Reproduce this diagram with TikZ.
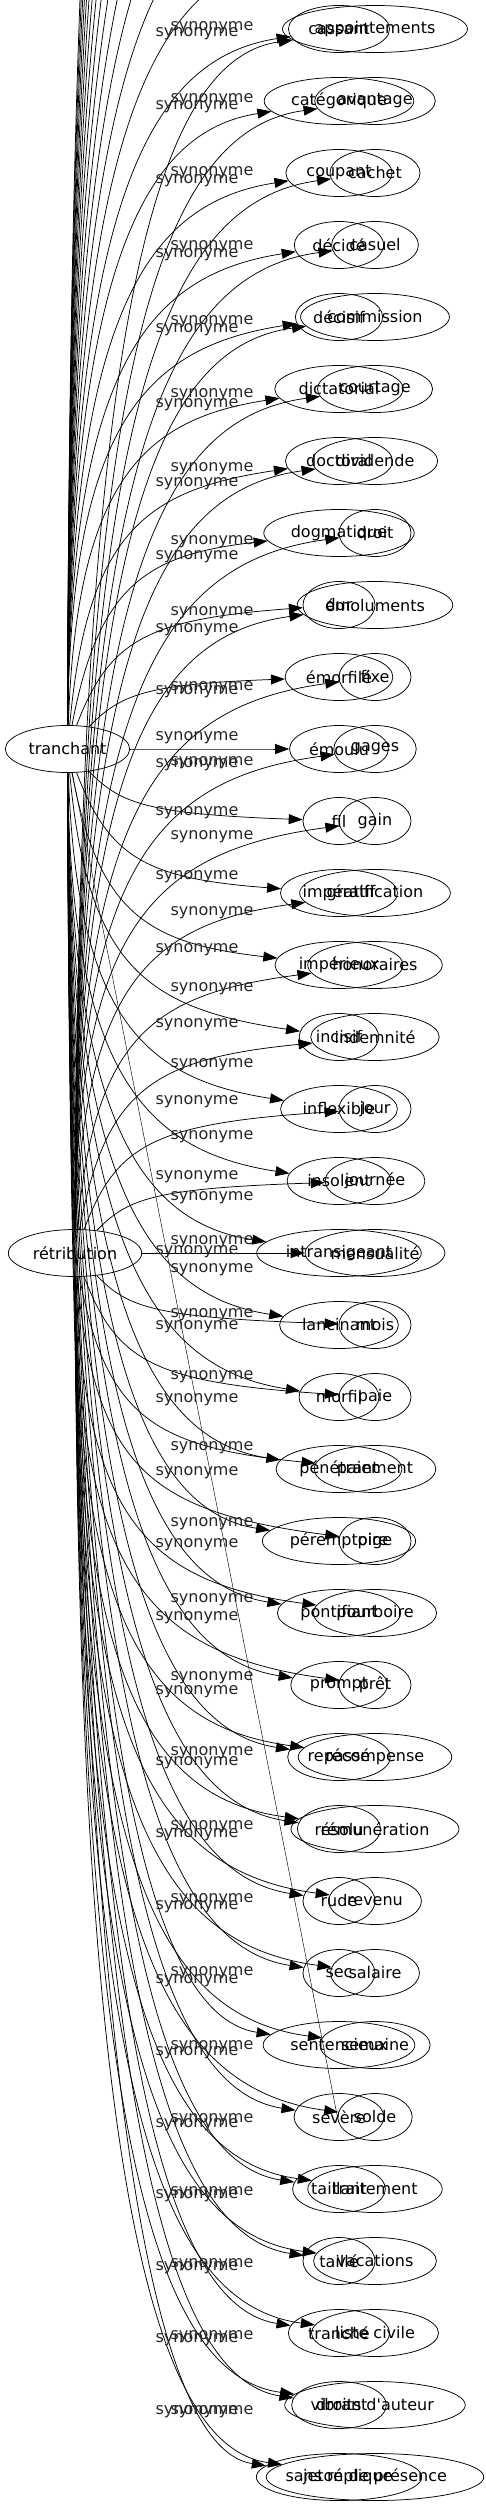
\documentclass[tikz,border=0pt]{standalone}
\usepackage{fontspec}
\newfontfamily\gv{DejaVu Sans}
\newcommand\gvf{\gv\fontsize{16}{19}\selectfont}
\usetikzlibrary{arrows.meta,shapes.geometric}
\begin{document}
\begin{tikzpicture}[x=1pt,y=-1pt,
  w/.style={draw,ellipse,line width=0.75pt,inner xsep=5pt,inner ysep=0pt,minimum width=72pt,minimum height=47pt,font=\gvf},
  lab/.style={inner sep=0pt,font=\gvf,text=black!85},
  edge/.style={line width=0.75pt,-{Triangle[length=14pt,width=10pt]}},
  thinedge/.style={line width=0.45pt}]
\useasboundingbox (0,0) rectangle (485,2507);
\clip (0,0) rectangle (485,2507);
% sources
\node[w] (tranchant) at (67.5,749) {tranchant};
\node[w] (retribution) at (75,1253) {rétribution};
% targets of tranchant
\foreach \n/\t [count=\i from 0] in {cassant/cassant,categorique/catégorique,coupant/coupant,decide/décidé,decisif/décisif,dictatorial/dictatorial,doctoral/doctoral,dogmatique/dogmatique,dur/dur,emorfile/émorfilé,emoulu/émoulu,fil/fil,imperatif/impératif,imperieux/impérieux,incisif/incisif,inflexible/inflexible,insolent/insolent,intransigeant/intransigeant,lancinant/lancinant,morfil/morfil,penetrant/pénétrant,peremptoire/péremptoire,pontifiant/pontifiant,prompt/prompt,repasse/repassé,resolu/résolu,rude/rude,sec/sec,sentencieux/sentencieux,severe/sévère,taillant/taillant,taille/taillé,tranche/tranché,vibrant/vibrant,sansreplique/sans réplique}
  {\node[w] (\n) at (339,{29+72*\i}) {\t};}
% targets of retribution
\foreach \n/\t [count=\i from 0] in {appointements/appointements,avantage/avantage,cachet/cachet,casuel/casuel,commission/commission,courtage/courtage,dividende/dividende,droit/droit,emoluments/émoluments,fixe/fixe,gages/gages,gain/gain,gratification/gratification,honoraires/honoraires,indemnite/indemnité,jour/jour,journee/journée,mensualite/mensualité,mois/mois,paie/paie,paiement/paiement,pige/pige,pourboire/pourboire,pret/prêt,recompense/récompense,remuneration/rémunération,revenu/revenu,salaire/salaire,semaine/semaine,solde/solde,traitement/traitement,vacations/vacations,listecivile/liste civile,droitsdauteur/droits d'auteur,jeton/jeton de présence}
  {\node[w] (\n) at (375,{29+72*\i}) {\t};}
% free ends of the edges that leave the picture at the top
\foreach \k in {1,...,14} {\coordinate (up\k) at (289,{29-72*\k});}
% edges from tranchant
\foreach \n [count=\i from 0] in {cassant,categorique,coupant,decide,decisif,dictatorial,doctoral,dogmatique,dur,emorfile,emoulu,fil,imperatif,imperieux,incisif,inflexible,insolent,intransigeant,lancinant,morfil,penetrant,peremptoire,pontifiant,prompt,repasse,resolu,rude,sec,sentencieux,severe,taillant,taille,tranche,vibrant,sansreplique}{
  \pgfmathsetmacro\ty{29+72*\i}
  \pgfmathsetmacro\cx{70.5+60*max(0,1-abs(\ty-749)/400)}
  \pgfmathsetmacro\cy{\ty+0.25*(749-\ty)}
  \pgfmathsetmacro\dy{\ty-sign(\ty-749)*min(30,0.1*abs(\ty-749))}
  \draw[edge] (tranchant) .. controls (\cx,\cy) and (145,\dy) .. (\n);
}
\foreach \k in {1,...,14}{
  \pgfmathsetmacro\ty{29-72*\k}
  \pgfmathsetmacro\cy{\ty+0.25*(749-\ty)}
  \draw[edge] (tranchant) .. controls (70.5,\cy) and (145,\ty+30) .. (up\k);
}
% edges from retribution
\foreach \n [count=\i from 0] in {appointements,avantage,cachet,casuel,commission,courtage,dividende,droit,emoluments,fixe,gages,gain,gratification,honoraires,indemnite,jour,journee,mensualite,mois,paie,paiement,pige,pourboire,pret,recompense,remuneration,revenu,salaire,semaine,solde,traitement,vacations,listecivile,droitsdauteur,jeton}{
  \pgfmathsetmacro\ty{29+72*\i}
  \pgfmathsetmacro\cx{78+60*max(0,1-abs(\ty-1253)/400)}
  \pgfmathsetmacro\cy{\ty+0.25*(1253-\ty)}
  \pgfmathsetmacro\dy{\ty-sign(\ty-1253)*min(30,0.1*abs(\ty-1253))}
  \draw[edge] (retribution) .. controls (\cx,\cy) and (152,\dy) .. (\n);
}
\draw[thinedge] (tranchant) -- (solde.west);
% edge labels
\foreach \x/\y [count=\i] in {212/28,197/34,212/100,197/107,212/173,197/181,212/247,197/255,212/322,197/330,212/395,197/405,212/469,197/484,212/542,197/557,212/613,197/630,212/688,197/692,197/738,212/763,197/765,197/813,212/837,197/877,212/913,197/950,212/989,197/1025,212/1065,197/1102,212/1137,197/1177,212/1198,212/1242,197/1252,212/1270,212/1315,197/1327,212/1377,197/1400,212/1448,197/1473,212/1524,197/1545,212/1600,197/1618,212/1678,197/1692,212/1753,197/1763,212/1827,197/1835,212/1900,197/1907,212/1973,197/1981,212/2047,197/2053,212/2120,197/2125,212/2193,197/2196,212/2265,197/2268,212/2337,197/2340,212/2412,197/2412}
  {\node[lab] (syn\i) at (\x,\y) {synonyme};}
\end{tikzpicture}
\end{document}
